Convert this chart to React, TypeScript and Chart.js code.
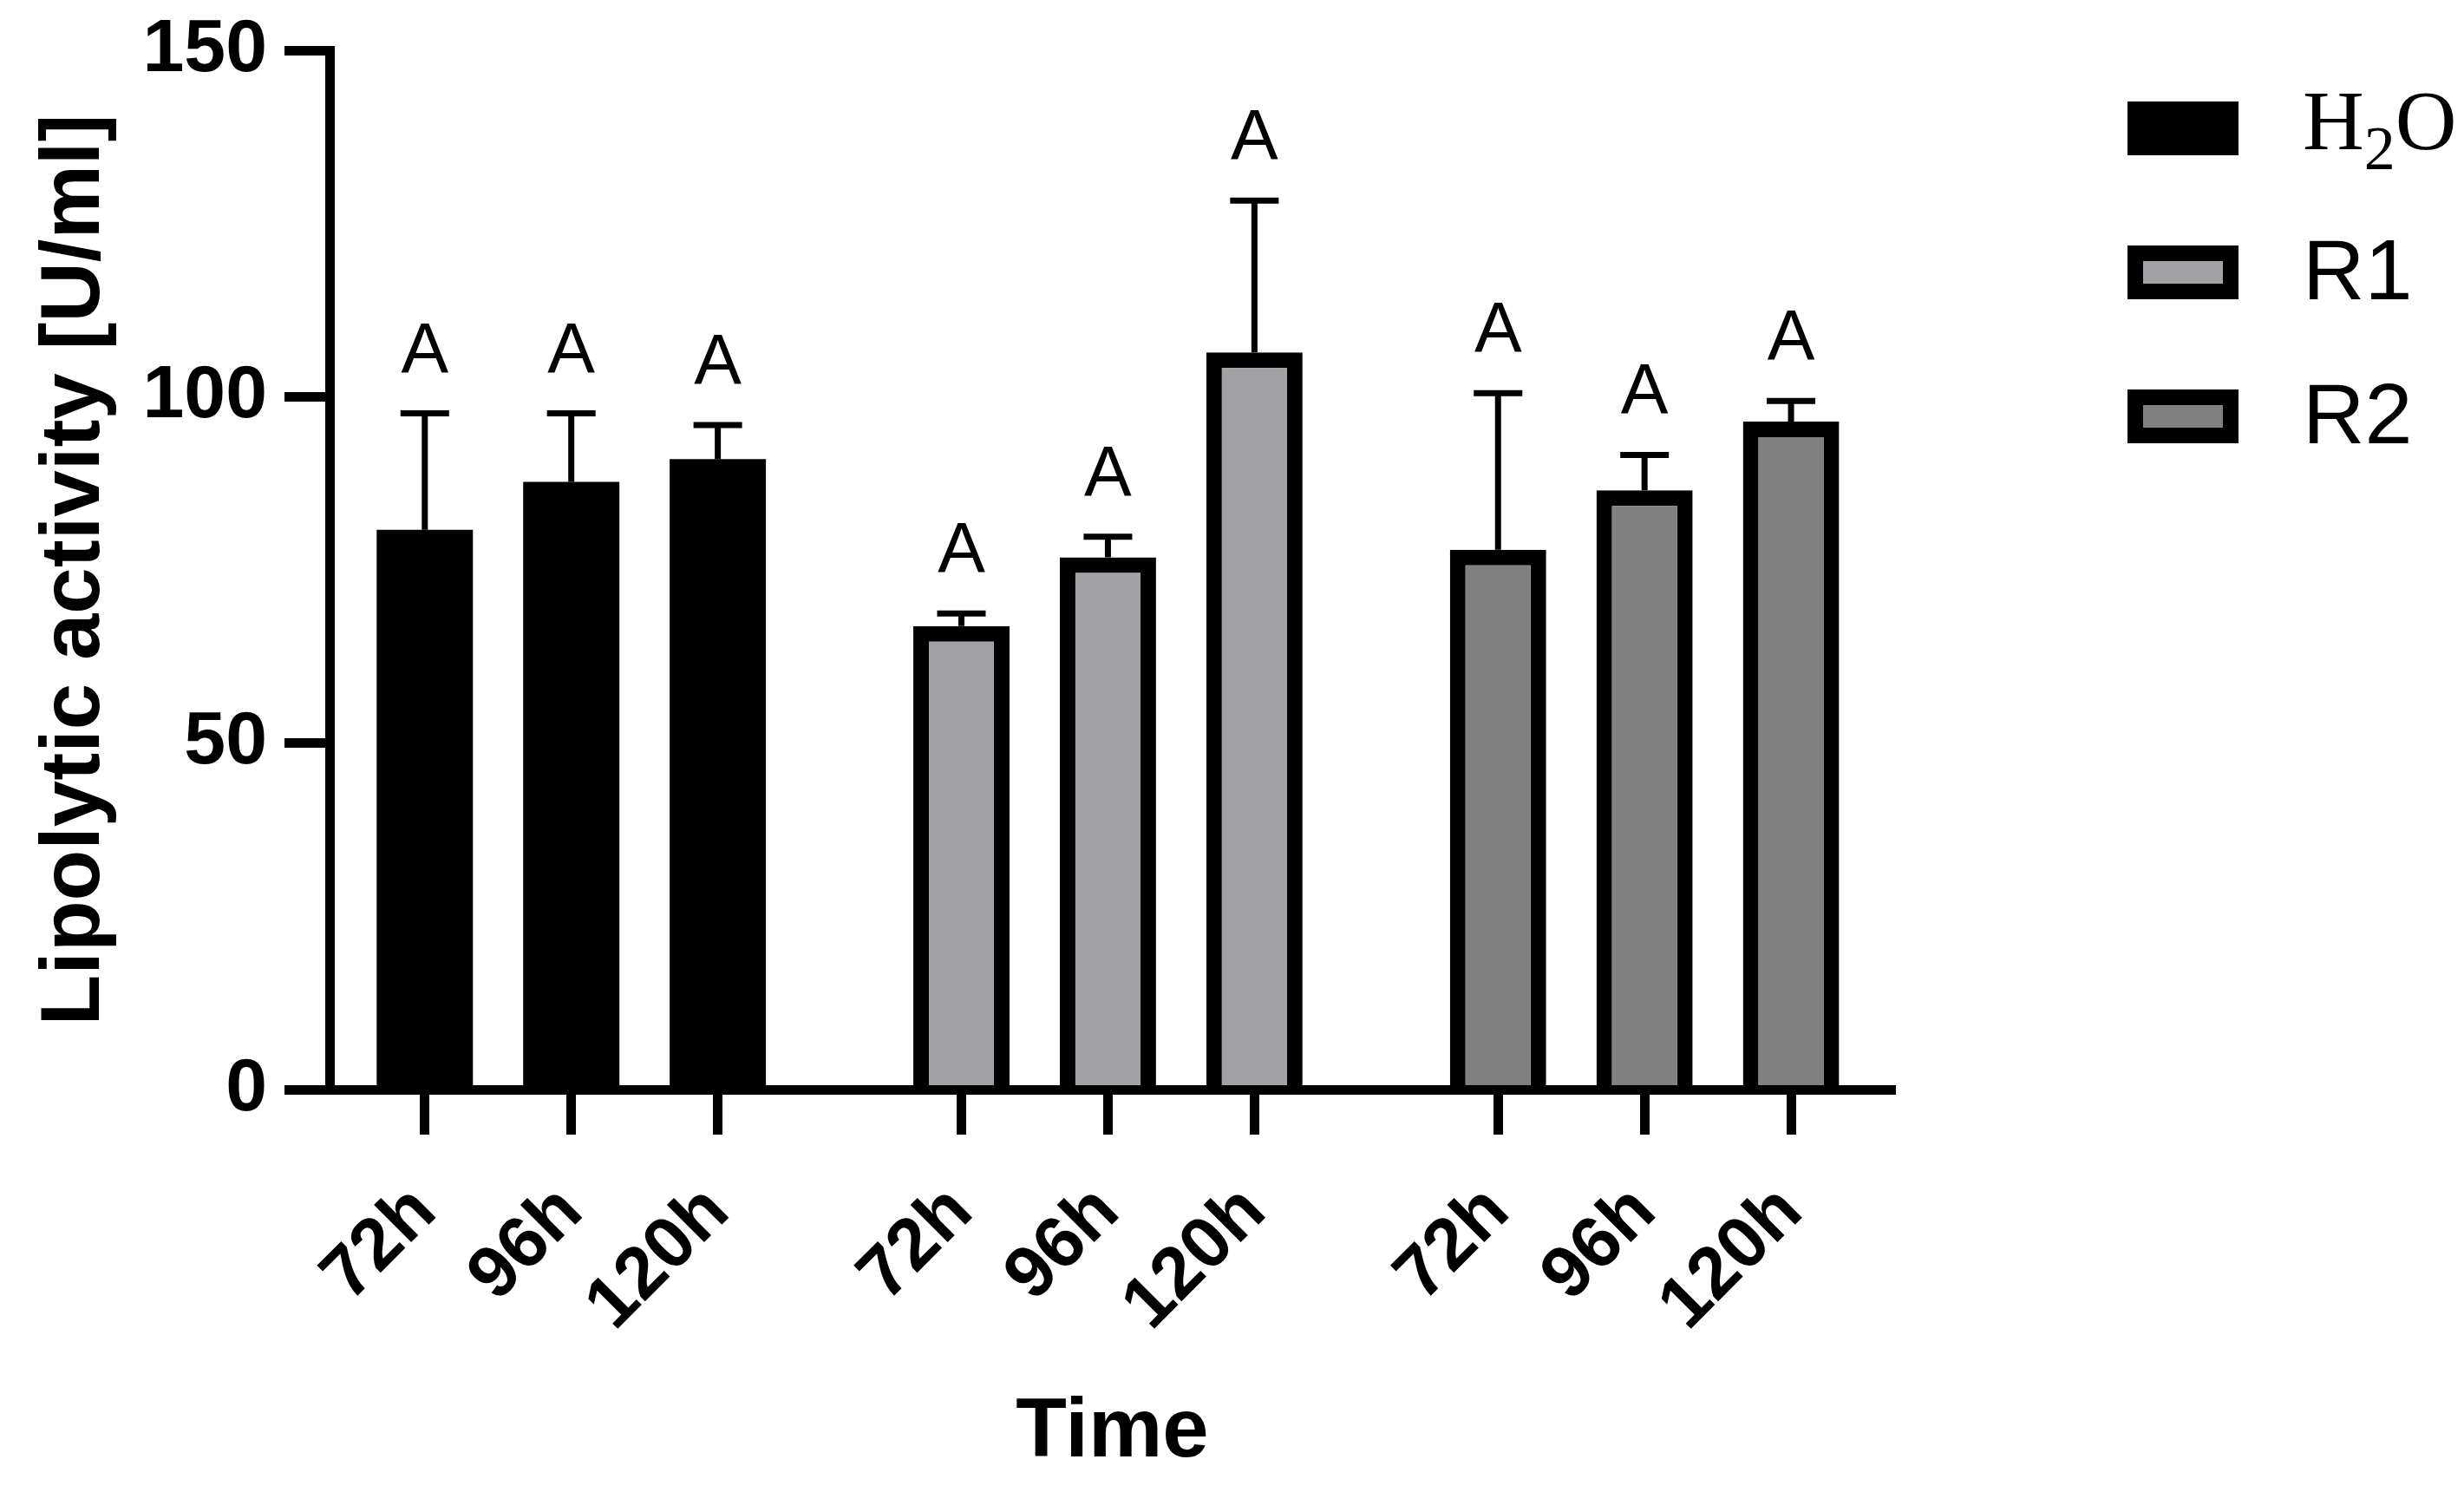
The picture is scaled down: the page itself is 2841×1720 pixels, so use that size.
import React, { useEffect, useRef } from 'react';
import { Chart, registerables } from 'chart.js';

Chart.register(...registerables);

// time points inside each treatment group
const times = ['72h', '96h', '120h'];
const treatments = ['H₂O', 'R1', 'R2'];

// lipolytic activity [U/ml], mean and upper SD
const h2oMeans = [80.8, 87.7, 91.0];
const h2oSd = [16.8, 9.9, 4.9];
const r1Means = [66.9, 76.8, 106.4];
const r1Sd = [1.8, 3.0, 21.9];
const r2Means = [77.9, 86.5, 96.4];
const r2Sd = [22.6, 5.1, 3.0];

// significance letters over each bar
const h2oLetters = ['A', 'A', 'A'];
const r1Letters = ['A', 'A', 'A'];
const r2Letters = ['A', 'A', 'A'];

const yTicks = [0, 50, 100, 150];

const SANS = '"Liberation Sans", Arial, sans-serif';
const SERIF = '"Liberation Serif", "Times New Roman", serif';

const groupGap = 0.663;
const barX = (g: number, t: number) => g * (times.length + groupGap) + t;
const tickXs = treatments.flatMap((_, g) => times.map((__, t) => barX(g, t)));

const SUBS = '₀₁₂₃₄₅₆₇₈₉';

const errorBarPlugin = {
    id: 'errorBars',
    afterDatasetsDraw(chart: any) {
        const { ctx } = chart;
        const y = chart.scales.y;
        ctx.save();
        ctx.strokeStyle = '#000';
        ctx.fillStyle = '#000';
        ctx.lineWidth = 7;
        ctx.font = `82px ${SANS}`;
        ctx.textAlign = 'center';
        ctx.textBaseline = 'alphabetic';
        chart.data.datasets.forEach((ds: any, i: number) => {
            const meta = chart.getDatasetMeta(i);
            meta.data.forEach((bar: any, j: number) => {
                const top = y.getPixelForValue(ds.data[j].y + ds.sd[j]);
                ctx.beginPath();
                ctx.moveTo(bar.x, bar.y);
                ctx.lineTo(bar.x, top);
                ctx.moveTo(bar.x - 28, top);
                ctx.lineTo(bar.x + 28, top);
                ctx.stroke();
                ctx.fillText(ds.letters[j], bar.x, top - 48);
            });
        });
        ctx.restore();
    }
};

const sideLegendPlugin = {
    id: 'sideLegend',
    afterDraw(chart: any) {
        const { ctx, chartArea } = chart;
        const left = chartArea.right + 268;
        ctx.save();
        chart.data.datasets.forEach((ds: any, i: number) => {
            const cy = chartArea.top + 90 + i * 166;
            ctx.fillStyle = '#000';
            ctx.fillRect(left, cy - 31, 128, 62);
            if (ds.borderWidth) {
                ctx.fillStyle = ds.backgroundColor;
                ctx.fillRect(left + 18, cy - 13, 92, 26);
            }
            ctx.fillStyle = '#000';
            ctx.textAlign = 'left';
            ctx.textBaseline = 'alphabetic';
            let x = left + 202;
            if (ds.serifLabel) {
                const base = cy + 24;
                for (const ch of ds.label as string) {
                    const k = SUBS.indexOf(ch);
                    if (k >= 0) {
                        ctx.font = `72px ${SERIF}`;
                        ctx.fillText(String(k), x, base + 23);
                        x += ctx.measureText(String(k)).width;
                    } else {
                        ctx.font = `98px ${SERIF}`;
                        ctx.fillText(ch, x, base);
                        x += ctx.measureText(ch).width;
                    }
                }
            } else {
                ctx.font = `99px ${SANS}`;
                ctx.fillText(ds.label, x, cy + 31);
            }
        });
        ctx.restore();
    }
};

const LipolyticChart: React.FC = () => {
    const chartRef = useRef<HTMLCanvasElement>(null);
    const chartInstanceRef = useRef<Chart | null>(null);

    useEffect(() => {
        if (!chartRef.current) return;
        if (chartInstanceRef.current) chartInstanceRef.current.destroy();
        const ctx = chartRef.current.getContext('2d');
        if (!ctx) return;

        const groups = [
            { means: h2oMeans, sd: h2oSd, letters: h2oLetters, fill: '#000000', border: 0, serif: true },
            { means: r1Means, sd: r1Sd, letters: r1Letters, fill: '#a2a2a6', border: 18, serif: false },
            { means: r2Means, sd: r2Sd, letters: r2Letters, fill: '#808080', border: 18, serif: false },
        ];

        chartInstanceRef.current = new Chart(ctx, {
            type: 'bar',
            data: {
                datasets: groups.map((g, gi) => ({
                    label: treatments[gi],
                    data: g.means.map((m, t) => ({ x: barX(gi, t), y: m })),
                    sd: g.sd,
                    letters: g.letters,
                    serifLabel: g.serif,
                    backgroundColor: g.fill,
                    borderColor: '#000000',
                    borderWidth: g.border,
                    grouped: false,
                    barPercentage: 0.657,
                    categoryPercentage: 1,
                })) as any
            },
            options: {
                animation: false,
                responsive: true,
                maintainAspectRatio: false,
                devicePixelRatio: 1,
                layout: { padding: { top: 58, right: 656, bottom: 0, left: 0 } },
                plugins: {
                    legend: { display: false },
                    tooltip: { enabled: false },
                },
                scales: {
                    x: {
                        type: 'linear',
                        min: -0.65,
                        max: tickXs[tickXs.length - 1] + 0.71,
                        offset: false,
                        afterBuildTicks: (scale: any) => {
                            scale.ticks = tickXs.map(v => ({ value: v }));
                        },
                        afterFit: (scale: any) => { scale.height = 464; },
                        grid: {
                            offset: false,
                            drawOnChartArea: false,
                            drawTicks: true,
                            tickLength: 52,
                            tickWidth: 11,
                            tickColor: '#000',
                        },
                        border: { display: true, color: '#000', width: 11, z: 1 },
                        ticks: {
                            autoSkip: false,
                            minRotation: 45,
                            maxRotation: 45,
                            padding: 40,
                            color: '#000',
                            font: { family: SANS, size: 84, weight: 'bold' },
                            callback: (_v: any, i: number) => times[i % times.length],
                        },
                        title: {
                            display: true,
                            text: 'Time',
                            color: '#000',
                            font: { family: SANS, size: 96, weight: 'bold', lineHeight: 1.2 },
                            padding: { top: 0, bottom: 10 },
                        },
                    },
                    y: {
                        min: 0,
                        max: 150,
                        afterBuildTicks: (scale: any) => {
                            scale.ticks = yTicks.map(v => ({ value: v }));
                        },
                        afterFit: (scale: any) => {
                            scale.width = 380;
                            scale.paddingTop = 0;
                            scale.paddingBottom = 0;
                        },
                        grid: {
                            drawOnChartArea: false,
                            drawTicks: true,
                            tickLength: 52,
                            tickWidth: 11,
                            tickColor: '#000',
                        },
                        border: { display: true, color: '#000', width: 11, z: 1 },
                        ticks: {
                            padding: 20,
                            color: '#000',
                            font: { family: SANS, size: 86, weight: 'bold' },
                        },
                        title: {
                            display: true,
                            text: 'Lipolytic activity [U/ml]',
                            color: '#000',
                            font: { family: SANS, size: 96, weight: 'bold', lineHeight: 1.2 },
                            padding: { top: 30, bottom: 0 },
                        },
                    },
                },
            } as any,
            plugins: [errorBarPlugin, sideLegendPlugin],
        });

        return () => {
            if (chartInstanceRef.current) {
                chartInstanceRef.current.destroy();
                chartInstanceRef.current = null;
            }
        };
    }, []);

    return (
        <div style={{ position: 'absolute', left: 0, top: 0, width: 2841, height: 1720, background: '#fff' }}>
            <canvas ref={chartRef}></canvas>
        </div>
    );
};

export default function App() {
    return <LipolyticChart />;
}
